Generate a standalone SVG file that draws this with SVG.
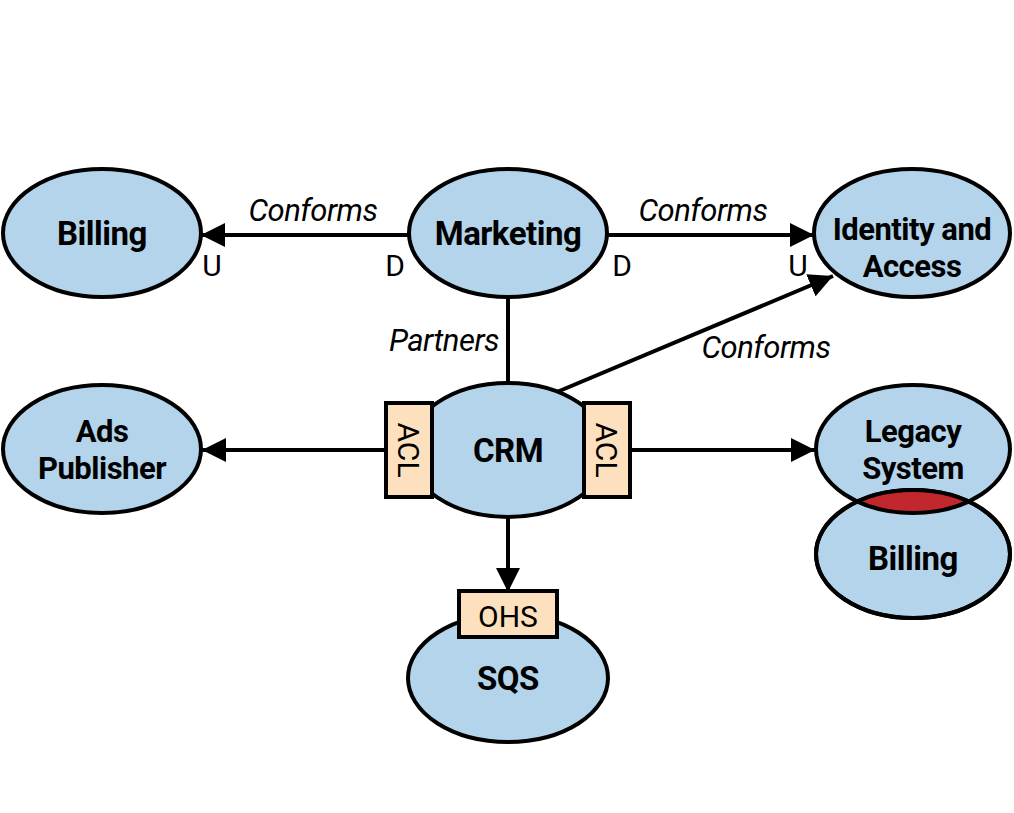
<svg xmlns="http://www.w3.org/2000/svg" width="1014" height="813" viewBox="0 0 1014 813">
<style>
.n{fill:#b3d4ea;stroke:#000;stroke-width:4}
.t{font-family:Roboto,"Liberation Sans",sans-serif;font-weight:bold;font-size:33px;text-anchor:middle;fill:#000;letter-spacing:-0.5px}
.t2{font-size:31px}
.i{font-family:Roboto,"Liberation Sans",sans-serif;font-style:italic;font-size:31px;text-anchor:middle;fill:#000;letter-spacing:-0.5px}
.r{font-family:Roboto,"Liberation Sans",sans-serif;font-size:30px;text-anchor:middle;fill:#000}
.b{fill:#fde0bd;stroke:#000;stroke-width:4}
.c{stroke:#000;stroke-width:4;fill:none}
</style>
<defs>
<marker id="ah" viewBox="0 0 24 24" refX="24" refY="12" markerWidth="24" markerHeight="24" markerUnits="userSpaceOnUse" orient="auto">
<path d="M0,0L24,12L0,24z" fill="#000"/>
</marker>
<clipPath id="cb"><ellipse cx="913" cy="554" rx="97" ry="64"/></clipPath>
</defs>
<rect width="1014" height="813" fill="#fff"/>
<g id="connectors">
<line class="c" x1="409" y1="235" x2="201" y2="235" marker-end="url(#ah)"/>
<line class="c" x1="607" y1="235" x2="814" y2="235" marker-end="url(#ah)"/>
<line class="c" x1="508" y1="297" x2="508" y2="386"/>
<line class="c" x1="557" y1="392" x2="833" y2="276" marker-end="url(#ah)"/>
<line class="c" x1="386" y1="450" x2="202" y2="450" marker-end="url(#ah)"/>
<line class="c" x1="630" y1="450" x2="815" y2="450" marker-end="url(#ah)"/>
<line class="c" x1="508" y1="517" x2="508" y2="592" marker-end="url(#ah)"/>
<text class="i" x="313" y="221">Conforms</text>
<text class="i" x="703" y="221">Conforms</text>
<text class="i" x="444" y="351">Partners</text>
<text class="i" x="766" y="358">Conforms</text>
<text class="r" x="212" y="276">U</text>
<text class="r" x="395" y="276">D</text>
<text class="r" x="622" y="276">D</text>
<text class="r" x="798" y="276">U</text>
</g>
<g id="billing">
<ellipse class="n" cx="102" cy="233" rx="99" ry="64"/>
<text class="t" x="102" y="245">Billing</text>
</g>
<g id="marketing">
<ellipse class="n" cx="508" cy="233" rx="99" ry="64"/>
<text class="t" x="508" y="245">Marketing</text>
</g>
<g id="identity">
<ellipse class="n" cx="912" cy="233" rx="98" ry="64"/>
<text class="t t2"><tspan x="912" y="240">Identity and</tspan><tspan x="912" y="277">Access</tspan></text>
</g>
<g id="ads">
<ellipse class="n" cx="102" cy="449" rx="99" ry="64"/>
<text class="t t2"><tspan x="102" y="442">Ads</tspan><tspan x="102" y="479">Publisher</tspan></text>
</g>
<g id="crm">
<ellipse class="n" cx="508" cy="450" rx="100" ry="67"/>
<text class="t" x="508" y="462">CRM</text>
<rect class="b" x="386" y="403" width="46" height="94"/>
<text class="r" transform="translate(409,450) rotate(90)" y="11">ACL</text>
<rect class="b" x="584" y="403" width="46" height="94"/>
<text class="r" transform="translate(607,450) rotate(90)" y="11">ACL</text>
</g>
<g id="legacy">
<ellipse class="n" cx="913" cy="449" rx="97" ry="64"/>
<ellipse class="n" cx="913" cy="554" rx="97" ry="64"/>
<ellipse cx="913" cy="449" rx="97" ry="64" fill="#c1272d" stroke="#000" stroke-width="4" clip-path="url(#cb)"/>
<ellipse class="c" cx="913" cy="554" rx="97" ry="64"/>
<text class="t t2"><tspan x="913" y="442">Legacy</tspan><tspan x="913" y="479">System</tspan></text>
<text class="t" x="913" y="570">Billing</text>
</g>
<g id="sqs">
<ellipse class="n" cx="508" cy="678" rx="100" ry="64"/>
<text class="t" x="508" y="690">SQS</text>
<rect class="b" x="459" y="591" width="98" height="46"/>
<text class="r" x="508" y="627">OHS</text>
</g>
</svg>
